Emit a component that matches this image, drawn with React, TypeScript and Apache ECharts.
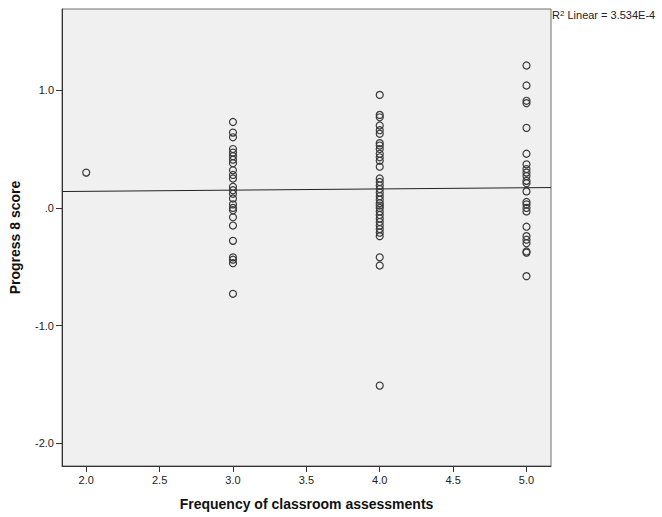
import React, { useEffect, useRef } from "react";
import * as echarts from "echarts";

// Frequency of classroom assessments (x) and Progress 8 score (y)
const x2Scores = [0.3];
const x3Scores = [
  0.73, 0.64, 0.6, 0.5, 0.47, 0.44, 0.41, 0.38, 0.32, 0.28, 0.25, 0.18, 0.15,
  0.12, 0.08, 0.03, 0.0, -0.02, -0.08, -0.15, -0.28, -0.42, -0.44, -0.47, -0.73,
];
const x4Scores = [
  0.96, 0.79, 0.77, 0.7, 0.66, 0.63, 0.55, 0.53, 0.5, 0.46, 0.43, 0.4, 0.35,
  0.25, 0.22, 0.19, 0.16, 0.13, 0.1, 0.07, 0.04, 0.02, 0.0, -0.03, -0.06,
  -0.09, -0.12, -0.15, -0.18, -0.21, -0.24, -0.42, -0.49, -1.51,
];
const x5Scores = [
  1.21, 1.04, 0.91, 0.89, 0.68, 0.46, 0.37, 0.33, 0.3, 0.27, 0.23, 0.21, 0.14,
  0.05, 0.03, 0.0, -0.03, -0.16, -0.24, -0.27, -0.3, -0.37, -0.38, -0.58,
];
const groups: [number, number[]][] = [
  [2, x2Scores],
  [3, x3Scores],
  [4, x4Scores],
  [5, x5Scores],
];

// Linear fit line endpoints
const fitX = [1.835, 5.167];
const fitY = [0.139, 0.173];

const xTicks = [2.0, 2.5, 3.0, 3.5, 4.0, 4.5, 5.0];
const yTicks = [-2, -1, 0, 1];

const xRange = [1.835, 5.167];
const yRange = [-2.193, 1.69];

const fmtY = (v: number) => {
  if (Math.abs(v) < 1e-9) return ".0";
  return v.toFixed(1);
};

export default function App() {
  const ref = useRef<HTMLDivElement>(null);
  useEffect(() => {
    if (!ref.current) return;
    const chart = echarts.init(ref.current, undefined, { renderer: "svg" });
    const points: number[][] = [];
    groups.forEach(([x, ys]) => ys.forEach((y) => points.push([x, y])));
    const font = "'Liberation Sans', Arial, sans-serif";
    chart.setOption({
      animation: false,
      backgroundColor: "#ffffff",
      grid: {
        left: 60,
        top: 9,
        width: 491,
        height: 457,
        show: true,
        backgroundColor: "#f0f0f0",
        borderColor: "#6e6e6e",
        borderWidth: 1,
      },
      xAxis: {
        type: "value",
        min: xRange[0],
        max: xRange[1],
        name: "Frequency of classroom assessments",
        nameLocation: "middle",
        nameGap: 31,
        nameTextStyle: {
          fontFamily: font,
          fontWeight: "bold",
          fontSize: 14,
          color: "#111",
        },
        splitLine: { show: false },
        axisLine: { show: true, onZero: false, lineStyle: { color: "#333", width: 1 } },
        axisTick: {
          show: true,
          length: 6,
          customValues: xTicks,
          lineStyle: { color: "#333" },
        },
        axisLabel: {
          customValues: xTicks,
          formatter: (v: number) => v.toFixed(1),
          fontFamily: font,
          fontSize: 11,
          color: "#222",
          margin: 8,
        },
      },
      yAxis: {
        type: "value",
        min: yRange[0],
        max: yRange[1],
        name: "Progress 8 score",
        nameLocation: "middle",
        nameGap: 40,
        nameTextStyle: {
          fontFamily: font,
          fontWeight: "bold",
          fontSize: 14,
          color: "#111",
        },
        splitLine: { show: false },
        axisLine: { show: true, onZero: false, lineStyle: { color: "#333", width: 1 } },
        axisTick: {
          show: true,
          length: 6,
          customValues: yTicks,
          lineStyle: { color: "#333" },
        },
        axisLabel: {
          customValues: yTicks,
          formatter: fmtY,
          fontFamily: font,
          fontSize: 11,
          color: "#222",
          margin: 8,
        },
      },
      series: [
        {
          type: "line",
          data: fitX.map((x, i) => [x, fitY[i]]),
          showSymbol: false,
          symbol: "none",
          lineStyle: { color: "#222", width: 1 },
          z: 1,
        },
        {
          type: "scatter",
          data: points,
          symbol: "circle",
          symbolSize: 7,
          itemStyle: {
            color: "rgba(0,0,0,0)",
            borderColor: "#3a3a3a",
            borderWidth: 1.2,
            opacity: 1,
          },
          z: 2,
        },
      ],
      graphic: [
        {
          type: "text",
          left: 552,
          top: 9,
          style: {
            text: "{a|R}{s|2}{a| Linear = 3.534E-4}",
            rich: {
              a: { fontFamily: font, fontSize: 11, fill: "#222" },
              s: {
                fontFamily: font,
                fontSize: 8,
                fill: "#222",
                verticalAlign: "top",
                padding: [0, 0, 4, 0],
              },
            },
          },
        },
      ],
    });
    return () => chart.dispose();
  }, []);
  return (
    <div
      ref={ref}
      style={{ position: "fixed", left: 0, top: 0, width: 662, height: 517 }}
    />
  );
}
